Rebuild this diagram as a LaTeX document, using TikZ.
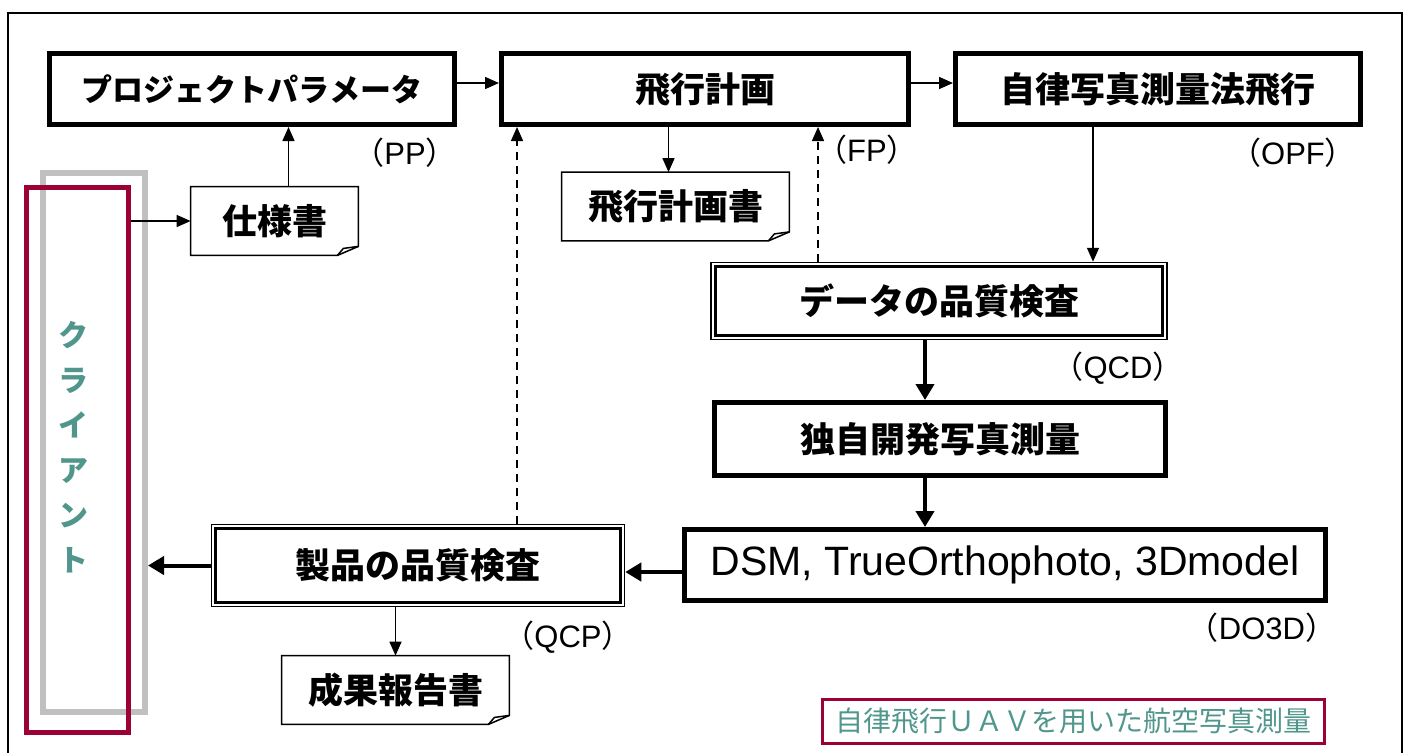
\documentclass[tikz,border=0pt]{standalone}
\usepackage{fontspec}
\setmainfont{Liberation Sans}
\newfontfamily\jpfont{Noto Sans CJK JP}
\usetikzlibrary{arrows.meta}

\definecolor{clientred}{RGB}{155,0,55}
\definecolor{clientgray}{RGB}{192,192,192}
\definecolor{tealtext}{RGB}{80,150,140}

\newcommand{\abbrlabel}[1]{{\jpfont（}#1{\jpfont）}}
% paper with a folded corner round a named node
\newcommand{\foldnote}[1]{%
  \draw[line width=0.75pt, fill=white] (#1.north west) -- (#1.north east) -- ([shift={(0,-9)}]#1.south east)
    -- ([shift={(-21,0)}]#1.south east) -- (#1.south west) -- cycle;
  \draw[line width=0.75pt] ([shift={(-21,0)}]#1.south east) -- ([shift={(-15,-7)}]#1.south east) -- ([shift={(0,-9)}]#1.south east);}

\tikzset{
  jptext/.style={font=\jpfont\bfseries\fontsize{17.5}{20}\selectfont},
  procbox/.style={draw, line width=2.5pt, minimum height=35.5pt, inner sep=0pt, jptext},
  checkbox/.style={draw, line width=0.75pt, inner sep=0pt, jptext},
  docnote/.style={minimum height=34pt, inner sep=0pt, jptext},
  tagtext/.style={font=\fontsize{15.5}{18}\selectfont},
  arr/.style={line width=0.75pt, -{Triangle[length=7pt,width=6pt]}},
  fatarr/.style={line width=2pt, -{Triangle[length=8pt,width=9pt]}},
  planarr/.style={arr, dash pattern=on 4pt off 3pt}
}

\begin{document}
\begin{tikzpicture}[x=0.5pt, y=-0.5pt]
        \useasboundingbox (0,0) rectangle (1407,752);
        \draw[line width=0.9pt] (8,770) -- (8,13) -- (1402,13) -- (1402,770);

        % client
        \node[draw=clientgray, line width=3pt, minimum width=51pt, minimum height=269.5pt] (clientbg) at (94,442.5) {};
        \node[draw=clientred, line width=2.5pt, minimum width=51pt, minimum height=272.5pt] (client) at (77.5,460) {};
        \node[text=tealtext, font=\jpfont\bfseries\fontsize{15}{22.5}\selectfont, align=center] (clientname) at (73,447) {ク\\ラ\\イ\\ア\\ン\\ト};

        % top row
        \node[procbox, minimum width=202.5pt, font=\jpfont\bfseries\fontsize{15.5}{18}\selectfont] (pp) at (252,89) {プロジェクトパラメータ};
        \node[procbox, minimum width=203.5pt] (fp) at (705,89) {飛行計画};
        \node[procbox, minimum width=202.5pt] (opf) at (1158,89) {自律写真測量法飛行};

        \node[tagtext] (pptag) at (405,153) {\abbrlabel{PP}};
        \node[tagtext] (fptag) at (867,150) {\abbrlabel{FP}};
        \node[tagtext] (opftag) at (1293,153) {\abbrlabel{OPF}};

        % documents
        \node[docnote, minimum width=83.5pt] (spec) at (274.5,221) {};
        \foldnote{spec}
        \node[jptext] at (spec) {仕様書};
        \node[docnote, minimum width=113.5pt] (plandoc) at (675.5,206.5) {};
        \foldnote{plandoc}
        \node[jptext] at (plandoc) {飛行計画書};
        \node[docnote, minimum width=113.5pt] (report) at (395.5,690) {};
        \foldnote{report}
        \node[jptext] at (report) {成果報告書};

        % checks and processing
        \node[checkbox, minimum width=228pt, minimum height=38.5pt] (qcd) at (939,301) {データの品質検査};
        \node[procbox, minimum width=225.5pt, minimum height=36.5pt] (own) at (940,439) {独自開発写真測量};
        \node[procbox, minimum width=320.5pt, font=\fontsize{20.5}{24}\selectfont] (do3d) at (1005,565) {DSM, TrueOrthophoto, 3Dmodel};
        \node[checkbox, minimum width=206.5pt, minimum height=41pt] (qcp) at (418,565.5) {製品の品質検査};
        \foreach \n in {qcd,qcp}
            \draw[line width=1.3pt] ([shift={(5,5)}]\n.north west) rectangle ([shift={(-5,-5)}]\n.south east);

        \node[tagtext] (qcdtag) at (1118,368) {\abbrlabel{QCD}};
        \node[tagtext] (do3dtag) at (1262,628) {\abbrlabel{DO3D}};
        \node[tagtext] (qcptag) at (568,637) {\abbrlabel{QCP}};

        % arrows
        \draw[arr] (client.east |- spec) -- (spec.west);
        \draw[arr] ([xshift=7pt]spec.north) -- ([xshift=7pt]spec.north |- pp.south);
        \draw[arr] ([yshift=3pt]pp.east) -- ([yshift=3pt]fp.west);
        \draw[arr] ([yshift=3pt]fp.east) -- ([yshift=3pt]opf.west);
        \draw[arr] ([xshift=-3.5pt]plandoc.north |- fp.south) -- ([xshift=-3.5pt]plandoc.north);
        \draw[arr] ([xshift=-32.5pt]opf.south) -- ([xshift=-32.5pt]opf.south |- qcd.north);
        \draw[fatarr] ([xshift=-7pt]qcd.south) -- ([xshift=-7pt]qcd.south |- own.north);
        \draw[fatarr] ([xshift=-7.5pt]own.south) -- ([xshift=-7.5pt]own.south |- do3d.north);
        \draw[fatarr] ([yshift=-3.5pt]do3d.west) -- ([yshift=-3.5pt]do3d.west -| qcp.east);
        \draw[fatarr] (qcp.west) -- (qcp.west -| clientbg.east);
        \draw[arr] (report.north |- qcp.south) -- (report.north);
        \draw[planarr] ([xshift=9pt]fp.south west |- qcp.north) -- ([xshift=9pt]fp.south west);
        \draw[planarr] ([xshift=-46.5pt]fp.south east |- qcd.north) -- ([xshift=-46.5pt]fp.south east);

        % title
        \node[draw=clientred, line width=1.5pt, minimum width=251pt, minimum height=22pt, inner sep=0pt,
              text=tealtext, font=\jpfont\fontsize{14}{16}\selectfont] (title) at (1073,721) {自律飛行ＵＡＶを用いた航空写真測量};

    \end{tikzpicture}
\end{document}
